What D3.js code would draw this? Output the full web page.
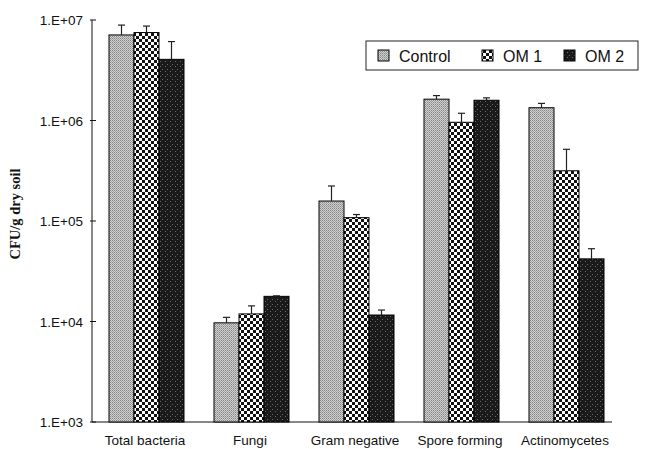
<!DOCTYPE html>
<html>
<head>
<meta charset="utf-8">
<script src="https://cdn.jsdelivr.net/npm/d3@7"></script>
<style>
  body { margin: 0; background: #fff; }
  svg { display: block; }
  .tick-label { font-family: "Liberation Sans", Arial, sans-serif; font-size: 13.5px; fill: #111; }
</style>
</head>
<body>
<div id="chart"></div>
<script>
// data
const categories = ['Total bacteria', 'Fungi', 'Gram negative', 'Spore forming', 'Actinomycetes'];
const seriesNames = ['Control', 'OM 1', 'OM 2'];
const controlVals = [7.1e6, 9.7e3, 1.58e5, 1.63e6, 1.34e6];
const om1Vals     = [7.5e6, 1.19e4, 1.08e5, 9.6e5, 3.16e5];
const om2Vals     = [4.06e6, 1.78e4, 1.16e4, 1.59e6, 4.2e4];
const controlErr  = [8.9e6, 1.1e4, 2.23e5, 1.77e6, 1.48e6];
const om1Err      = [8.7e6, 1.43e4, 1.16e5, 1.18e6, 5.17e5];
const om2Err      = [6.1e6, 1.8e4, 1.3e4, 1.68e6, 5.3e4];
const yTicks = [1e3, 1e4, 1e5, 1e6, 1e7];
const yTickLabels = ['1.E+03', '1.E+04', '1.E+05', '1.E+06', '1.E+07'];

const values = [controlVals, om1Vals, om2Vals];
const errs = [controlErr, om1Err, om2Err];

const width = 646, height = 449;
const svg = d3.select('#chart').append('svg')
  .attr('width', width).attr('height', height);

const defs = svg.append('defs');
// Control: light grey stipple
const p0 = defs.append('pattern').attr('id', 'pat0').attr('patternUnits', 'userSpaceOnUse')
  .attr('width', 2).attr('height', 2);
p0.append('rect').attr('width', 2).attr('height', 2).attr('fill', '#d0d0d0');
p0.append('rect').attr('x', 0).attr('y', 0).attr('width', 1).attr('height', 1).attr('fill', '#858585');
p0.append('rect').attr('x', 1).attr('y', 1).attr('width', 1).attr('height', 1).attr('fill', '#a2a2a2');
// OM 1: checkerboard
const p1 = defs.append('pattern').attr('id', 'pat1').attr('patternUnits', 'userSpaceOnUse')
  .attr('width', 6).attr('height', 6);
p1.append('rect').attr('width', 6).attr('height', 6).attr('fill', '#fff');
p1.append('rect').attr('width', 3).attr('height', 3).attr('fill', '#111');
p1.append('rect').attr('x', 3).attr('y', 3).attr('width', 3).attr('height', 3).attr('fill', '#111');
// OM 2: dark with speckle
const p2 = defs.append('pattern').attr('id', 'pat2').attr('patternUnits', 'userSpaceOnUse')
  .attr('width', 5).attr('height', 5);
p2.append('rect').attr('width', 5).attr('height', 5).attr('fill', '#1a1a1a');
[[1,1],[3,4]].forEach(([x, y]) => p2.append('rect').attr('x', x).attr('y', y).attr('width', 1).attr('height', 1).attr('fill', '#6a6a6a'));

const fills = ['url(#pat0)', 'url(#pat1)', 'url(#pat2)'];

const y = d3.scaleLog().domain([1e3, 1e7]).range([422, 20]);
const x0 = d3.scaleBand().domain(categories).range([94, 619]).paddingInner(0).paddingOuter(0);
const x1 = d3.scaleBand().domain(d3.range(3)).range([15, 90]);

// axes
const axisX = 92;
svg.append('line').attr('x1', axisX).attr('x2', axisX).attr('y1', y(1e7)).attr('y2', y(1e3))
  .attr('stroke', '#111').attr('stroke-width', 1);
svg.append('line').attr('x1', axisX).attr('x2', 612).attr('y1', y(1e3)).attr('y2', y(1e3))
  .attr('stroke', '#111').attr('stroke-width', 1);

yTicks.forEach((t, i) => {
  svg.append('line').attr('x1', axisX - 2).attr('x2', axisX + 4).attr('y1', y(t)).attr('y2', y(t))
    .attr('stroke', '#111');
  svg.append('text').attr('class', 'tick-label').attr('x', 83).attr('y', y(t) + 5)
    .attr('text-anchor', 'end').text(yTickLabels[i]);
});

svg.append('text')
  .attr('transform', `translate(20, ${y(Math.sqrt(1e3 * 1e7)) - 7}) rotate(-90)`)
  .attr('text-anchor', 'middle')
  .style('font-family', '"Liberation Serif", "Times New Roman", serif')
  .style('font-size', '14.5px').style('font-weight', 'bold').style('fill', '#111')
  .text('CFU/g dry soil');

categories.forEach(c => {
  svg.append('text').attr('class', 'tick-label')
    .attr('x', x0(c) + 51).attr('y', 445).attr('text-anchor', 'middle').text(c);
});

// bars
const groups = svg.selectAll('.grp').data(categories).enter().append('g')
  .attr('class', 'grp').attr('transform', c => `translate(${x0(c)},0)`);

d3.range(3).forEach(s => {
  groups.append('rect')
    .attr('x', x1(s)).attr('width', x1.bandwidth())
    .attr('y', (c, i) => y(values[s][i]))
    .attr('height', (c, i) => y(1e3) - y(values[s][i]))
    .attr('fill', fills[s]).attr('stroke', '#000').attr('stroke-width', 1);
  groups.append('line')
    .attr('x1', x1(s) + x1.bandwidth() / 2).attr('x2', x1(s) + x1.bandwidth() / 2)
    .attr('y1', (c, i) => y(values[s][i])).attr('y2', (c, i) => y(errs[s][i]))
    .attr('stroke', '#222').attr('stroke-width', 1.2);
  groups.append('line')
    .attr('x1', x1(s) + x1.bandwidth() / 2 - 3.5).attr('x2', x1(s) + x1.bandwidth() / 2 + 3.5)
    .attr('y1', (c, i) => y(errs[s][i])).attr('y2', (c, i) => y(errs[s][i]))
    .attr('stroke', '#222').attr('stroke-width', 1.2);
});

// legend
const lg = svg.append('g').attr('transform', 'translate(366,41)');
lg.append('rect').attr('width', 272).attr('height', 29).attr('fill', '#fff')
  .attr('stroke', '#222').attr('stroke-width', 1);
const legendX = [12, 116, 198];
seriesNames.forEach((n, i) => {
  lg.append('rect').attr('x', legendX[i]).attr('y', 9).attr('width', 11).attr('height', 11)
    .attr('fill', fills[i]).attr('stroke', '#000');
  lg.append('text').attr('x', legendX[i] + 21).attr('y', 20.5)
    .style('font-family', '"Liberation Sans", Arial, sans-serif').style('font-size', '16px')
    .style('fill', '#111').text(n);
});
</script>
</body>
</html>
